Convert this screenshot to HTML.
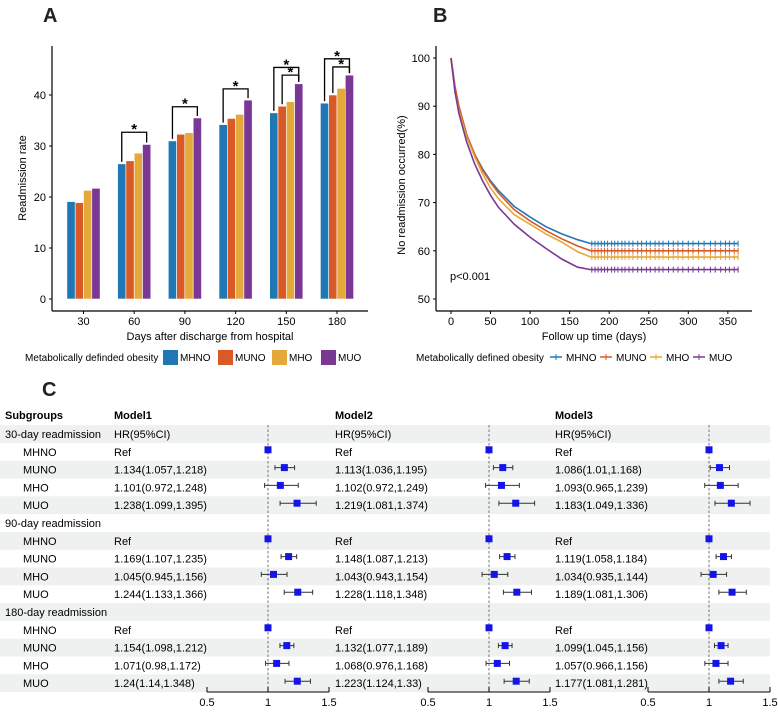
<!DOCTYPE html>
<html><head><meta charset="utf-8"><style>
body{margin:0;background:#fff;width:778px;height:708px;overflow:hidden;font-family:"Liberation Sans",Arial,sans-serif}
svg text{font-family:"Liberation Sans",Arial,sans-serif}
</style></head><body>
<svg id="svg" width="778" height="708" viewBox="0 0 778 708" xmlns="http://www.w3.org/2000/svg">
<g id="gA"></g>
<g id="gB"></g>
<g id="gC"></g>
</svg>
<script>
const NS="http://www.w3.org/2000/svg";
function mk(p,tag,a,txt){const e=document.createElementNS(NS,tag);for(const k in a)e.setAttribute(k,a[k]);if(txt!==undefined)e.textContent=txt;p.appendChild(e);return e;}
const colors=["#1f77b4","#d95a27","#e5a83a","#7b3794"];
const seriesNames=["MHNO","MUNO","MHO","MUO"];

// ---------- Panel A data ----------
const daysCats=["30","60","90","120","150","180"];
const mhnoRates=[19.1,26.5,31.0,34.2,36.5,38.4];
const munoRates=[18.9,27.1,32.3,35.4,37.8,40.0];
const mhoRates=[21.3,28.6,32.6,36.2,38.7,41.3];
const muoRates=[21.7,30.3,35.5,39.0,42.2,43.9];
const rateTicks=[0,10,20,30,40];
const sigGroup=[1,2,3,4,4,5,5];
const sigFrom=[0,0,0,0,1,0,1];
const sigBracket=[32.7,37.7,41.2,45.4,43.9,47.1,45.5];

// ---------- Panel B data ----------
const kmDays=[0,5,10,20,30,40,50,60,80,100,120,140,160,177,363];
const kmMHNO=[100,94,90,84,80,77,74.5,72.5,69.2,67,65,63.5,62.3,61.5,61.5];
const kmMUNO=[100,94,90,84,80,76.7,74.2,72,68.5,66.2,64.2,62.5,61,60,60];
const kmMHO=[100,93,89,83.5,79.5,76,73,70.8,67.5,65.5,63.5,61.8,59.8,58.7,58.7];
const kmMUO=[100,93,88.5,82.5,78,74.5,71.5,69,65.5,62.8,60.5,58.3,56.6,56.1,56.1];
const censorDays=[178,182,186,190,194,198,203,207,211,216,220,225,230,236,241,247,252,258,263,268,275,281,287,293,300,306,313,320,328,334,341,347,352,358,363];
const kmYTicks=[50,60,70,80,90,100];
const kmXTicks=[0,50,100,150,200,250,300,350];

// ---------- Panel C data ----------
const rowLabels=["30-day readmission","MHNO","MUNO","MHO","MUO","90-day readmission","MHNO","MUNO","MHO","MUO","180-day readmission","MHNO","MUNO","MHO","MUO"];
const m1Text=["HR(95%CI)","Ref","1.134(1.057,1.218)","1.101(0.972,1.248)","1.238(1.099,1.395)","","Ref","1.169(1.107,1.235)","1.045(0.945,1.156)","1.244(1.133,1.366)","","Ref","1.154(1.098,1.212)","1.071(0.98,1.172)","1.24(1.14,1.348)"];
const m2Text=["HR(95%CI)","Ref","1.113(1.036,1.195)","1.102(0.972,1.249)","1.219(1.081,1.374)","","Ref","1.148(1.087,1.213)","1.043(0.943,1.154)","1.228(1.118,1.348)","","Ref","1.132(1.077,1.189)","1.068(0.976,1.168)","1.223(1.124,1.33)"];
const m3Text=["HR(95%CI)","Ref","1.086(1.01,1.168)","1.093(0.965,1.239)","1.183(1.049,1.336)","","Ref","1.119(1.058,1.184)","1.034(0.935,1.144)","1.189(1.081,1.306)","","Ref","1.099(1.045,1.156)","1.057(0.966,1.156)","1.177(1.081,1.281)"];
const m1HR=[null,1,1.134,1.101,1.238,null,1,1.169,1.045,1.244,null,1,1.154,1.071,1.24];
const m1Lo=[null,1,1.057,0.972,1.099,null,1,1.107,0.945,1.133,null,1,1.098,0.98,1.14];
const m1Hi=[null,1,1.218,1.248,1.395,null,1,1.235,1.156,1.366,null,1,1.212,1.172,1.348];
const m2HR=[null,1,1.113,1.102,1.219,null,1,1.148,1.043,1.228,null,1,1.132,1.068,1.223];
const m2Lo=[null,1,1.036,0.972,1.081,null,1,1.087,0.943,1.118,null,1,1.077,0.976,1.124];
const m2Hi=[null,1,1.195,1.249,1.374,null,1,1.213,1.154,1.348,null,1,1.189,1.168,1.33];
const m3HR=[null,1,1.086,1.093,1.183,null,1,1.119,1.034,1.189,null,1,1.099,1.057,1.177];
const m3Lo=[null,1,1.01,0.965,1.049,null,1,1.058,0.935,1.081,null,1,1.045,0.966,1.081];
const m3Hi=[null,1,1.168,1.239,1.336,null,1,1.184,1.144,1.306,null,1,1.156,1.156,1.281];
const hrTicks=[0.5,1,1.5];

// ===== Panel A =====
(function(){
const g=document.getElementById('gA');
const y=v=>299-v*5.1;
const gx=i=>83.5+i*50.7;
const bw=8.3;
const bx=(i,s)=>gx(i)-2*bw+s*bw;
let t=mk(g,'text',{x:43,y:22,'font-size':20,'font-weight':'bold',fill:'#222'},'A');

const all=[mhnoRates,munoRates,mhoRates,muoRates];
all.forEach((arr,s)=>arr.forEach((v,i)=>{
 const r=mk(g,'rect',{x:bx(i,s),y:y(v),width:bw,height:y(0)-y(v),fill:colors[s],stroke:'#fff','stroke-width':0.6});
 
 
}));
mk(g,'line',{x1:52,y1:46,x2:52,y2:311,stroke:'#000','stroke-width':1.2});
mk(g,'line',{x1:52,y1:311,x2:368,y2:311,stroke:'#000','stroke-width':1.2});
rateTicks.forEach(v=>{
 mk(g,'line',{x1:49,y1:y(v),x2:52,y2:y(v),stroke:'#000'});
 const e=mk(g,'text',{x:46,y:y(v)+4,'font-size':11,'text-anchor':'end'},String(v));
 
});
daysCats.forEach((c,i)=>{
 mk(g,'line',{x1:gx(i),y1:311,x2:gx(i),y2:314,stroke:'#000'});
 const e=mk(g,'text',{x:gx(i),y:325,'font-size':11,'text-anchor':'middle'},c);
 
});
t=mk(g,'text',{x:210,y:340,'font-size':11,'text-anchor':'middle'},'Days after discharge from hospital');

t=mk(g,'text',{x:0,y:0,'font-size':11,'text-anchor':'middle',transform:'translate(26,178) rotate(-90)'},'Readmission rate');

sigGroup.forEach((gi,k)=>{
 const x1=bx(gi,sigFrom[k])+bw/2, x2=bx(gi,3)+bw/2, yb=y(sigBracket[k]);
 const yl=y(all[sigFrom[k]][gi])-2, yr=y(all[3][gi])-2;
 const p=mk(g,'path',{d:`M${x1},${yl}V${yb}H${x2}V${yr}`,fill:'none',stroke:'#000','stroke-width':1.3});
 
 const s=mk(g,'text',{x:(x1+x2)/2,y:yb+2,'font-size':15,'font-weight':'bold','text-anchor':'middle'},'*');
 
});
t=mk(g,'text',{x:25,y:361,'font-size':10},'Metabolically definded obesity');

const lx=[163,218,272,321];
seriesNames.forEach((n,s)=>{
 const r=mk(g,'rect',{x:lx[s],y:350,width:15,height:15,fill:colors[s]});
 
 const e=mk(g,'text',{x:lx[s]+17,y:361,'font-size':10},n);
 
});
})();

// ===== Panel B =====
(function(){
const g=document.getElementById('gB');
const x=d=>451+d*0.791;
const y=v=>58+(100-v)*4.82;
let t=mk(g,'text',{x:433,y:22,'font-size':20,'font-weight':'bold',fill:'#222'},'B');

mk(g,'line',{x1:436,y1:46,x2:436,y2:311,stroke:'#000','stroke-width':1.2});
mk(g,'line',{x1:436,y1:311,x2:752,y2:311,stroke:'#000','stroke-width':1.2});
kmYTicks.forEach(v=>{
 mk(g,'line',{x1:433,y1:y(v),x2:436,y2:y(v),stroke:'#000'});
 const e=mk(g,'text',{x:430,y:y(v)+4,'font-size':11,'text-anchor':'end'},String(v));
 
});
kmXTicks.forEach(v=>{
 mk(g,'line',{x1:x(v),y1:311,x2:x(v),y2:314,stroke:'#000'});
 const e=mk(g,'text',{x:x(v),y:325,'font-size':11,'text-anchor':'middle'},String(v));
 
});
t=mk(g,'text',{x:594,y:340,'font-size':11,'text-anchor':'middle'},'Follow up time (days)');

t=mk(g,'text',{x:0,y:0,'font-size':11,'text-anchor':'middle',transform:'translate(405,185) rotate(-90)'},'No readmission occurred(%)');

const curves=[kmMHNO,kmMUNO,kmMHO,kmMUO];
curves.forEach((arr,s)=>{
 let d='';
 kmDays.forEach((dd,i)=>{d+=(i?'L':'M')+x(dd).toFixed(1)+','+y(arr[i]).toFixed(1);});
 const p=mk(g,'path',{d:d,fill:'none',stroke:colors[s],'stroke-width':1.6});
 
 const last=arr[arr.length-1];
 let cd='';
 censorDays.forEach(c=>{cd+=`M${x(c).toFixed(1)},${(y(last)-3).toFixed(1)}v6`;});
 const cp=mk(g,'path',{d:cd,stroke:colors[s],'stroke-width':1});
 
});
t=mk(g,'text',{x:450,y:280,'font-size':11},'p<0.001');

t=mk(g,'text',{x:416,y:361,'font-size':10},'Metabolically defined obesity');

const lx=[550,600,650,693];
seriesNames.forEach((n,s)=>{
 mk(g,'line',{x1:lx[s],y1:357,x2:lx[s]+12,y2:357,stroke:colors[s],'stroke-width':1.5});
 mk(g,'line',{x1:lx[s]+6,y1:354,x2:lx[s]+6,y2:360,stroke:colors[s],'stroke-width':1});
 const e=mk(g,'text',{x:lx[s]+16,y:361,'font-size':10},n);
 
});
})();

// ===== Panel C =====
(function(){
const g=document.getElementById('gC');
const rowY=i=>434+i*17.8;
let t=mk(g,'text',{x:42,y:396,'font-size':20,'font-weight':'bold',fill:'#222'},'C');

rowLabels.forEach((l,i)=>{
 if(i%2===0){const r=mk(g,'rect',{x:0,y:rowY(i)-8.9,width:770,height:17.8,fill:'#eef1f0'});
 }
});
const hdr=[['Subgroups',5],['Model1',114],['Model2',335],['Model3',555]];
hdr.forEach(h=>{const e=mk(g,'text',{x:h[1],y:419,'font-size':11,'font-weight':'bold'},h[0]);
 });
rowLabels.forEach((l,i)=>{
 const sub=(i%5!==0);
 const e=mk(g,'text',{x:sub?23:5,y:rowY(i)+4,'font-size':11},l);
 
});
const models=[[m1Text,m1HR,m1Lo,m1Hi,114,207],[m2Text,m2HR,m2Lo,m2Hi,335,428],[m3Text,m3HR,m3Lo,m3Hi,555,648]];
models.forEach((m,k)=>{
 const [txt,hr,lo,hi,tx,x0]=m;
 const sx=v=>x0+(v-0.5)*122;
 txt.forEach((s,i)=>{if(s){const e=mk(g,'text',{x:tx,y:rowY(i)+4,'font-size':11},s);
  }});
 mk(g,'line',{x1:sx(1),y1:425,x2:sx(1),y2:690,stroke:'#666','stroke-width':0.9,'stroke-dasharray':'2.5,2'});
 hr.forEach((v,i)=>{
  if(v===null)return;
  const yy=rowY(i)-2;
  if(hi[i]>lo[i]){
   mk(g,'path',{d:`M${sx(lo[i])},${yy}H${sx(hi[i])}M${sx(lo[i])},${yy-2.5}v5M${sx(hi[i])},${yy-2.5}v5`,stroke:'#333','stroke-width':1});
  }
  const r=mk(g,'rect',{x:sx(v)-3.5,y:yy-3.5,width:7,height:7,fill:'#1414e6'});
  
 });
 mk(g,'line',{x1:sx(0.5),y1:692,x2:sx(1.5),y2:692,stroke:'#000','stroke-width':1});
 hrTicks.forEach(v=>{
  mk(g,'line',{x1:sx(v),y1:692,x2:sx(v),y2:687,stroke:'#000'});
  const e=mk(g,'text',{x:sx(v),y:706,'font-size':11,'text-anchor':'middle'},String(v));
  
 });
});
})();
</script>
</body></html>
